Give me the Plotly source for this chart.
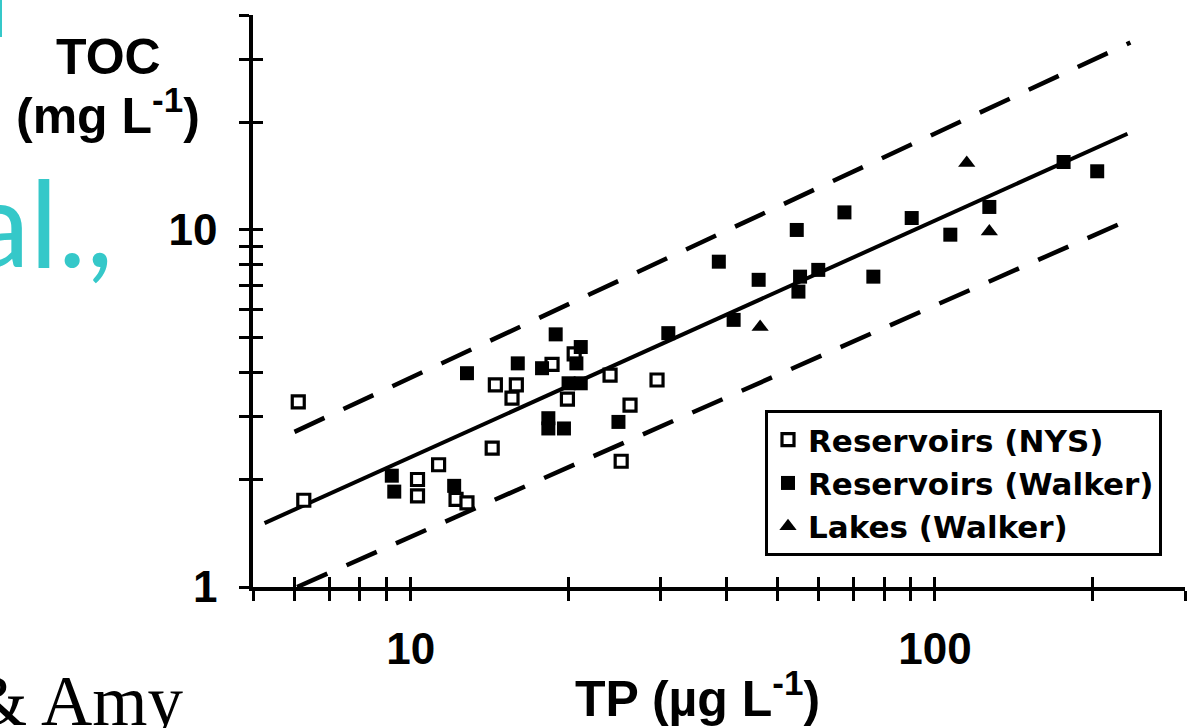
import numpy as np
import plotly.graph_objects as go

# ---------------- data ----------------
nys_tp = [6.1, 6.25, 10.3, 10.3, 11.3, 12.2, 12.8, 14.3, 14.5, 15.9, 15.6, 18.6, 20.5, 19.9, 24.0, 29.5, 26.2, 25.2]
nys_toc = [3.3, 1.75, 2.0, 1.8, 2.2, 1.76, 1.72, 2.45, 3.68, 3.68, 3.38, 4.2, 4.5, 3.36, 3.92, 3.8, 3.23, 2.25]

walker_res_tp = [9.2, 9.3, 12.1, 12.8, 16.0, 17.8, 18.9, 21.1, 20.7, 20.0, 21.1, 18.3, 18.3, 19.6, 24.9,
                 31.0, 38.7, 46.1, 41.3, 54.9, 55.3, 59.9, 76.3, 54.5, 67.2, 90.3, 107, 127, 176, 204]
walker_res_toc = [2.05, 1.85, 1.92, 3.97, 4.23, 4.1, 5.1, 4.7, 4.23, 3.72, 3.72, 2.97, 2.78, 2.78, 2.9,
                  5.14, 8.15, 7.25, 5.6, 6.72, 7.4, 7.73, 7.4, 10.0, 11.2, 10.8, 9.7, 11.6, 15.5, 14.6]

lakes_tp = [46.4, 127, 115]
lakes_toc = [5.35, 9.9, 15.4]

fit_tp = [5.26, 233]
fit_toc = [1.51, 18.6]
upper_tp = [6.0, 236]
upper_toc = [2.72, 33.5]
lower_tp = [6.07, 232]
lower_toc = [1.0, 10.6]

x_tickvals = [5, 6, 7, 8, 9, 10, 20, 30, 40, 50, 60, 70, 80, 90, 100, 200, 300]
x_ticktext = ["", "", "", "", "", "10", "", "", "", "", "", "", "", "", "100", "", ""]
y_tickvals = [1, 2, 3, 4, 5, 6, 7, 8, 9, 10, 20, 30, 40]
y_ticktext = ["1", "", "", "", "", "", "", "", "", "10", "", "", ""]

# ---------------- figure ----------------
W, H = 1196, 728
ML, MR, MT, MB = 253, 11, 15, 141
PW, PH = W - ML - MR, H - MT - MB


def px(xp):
    return (xp - ML) / PW


def py(yp):
    return (H - MB - yp) / PH


fig = go.Figure()

fig.add_trace(go.Scatter(x=fit_tp, y=fit_toc, mode="lines", line=dict(color="black", width=4),
                         showlegend=False, hoverinfo="skip"))
fig.add_trace(go.Scatter(x=nys_tp, y=nys_toc, mode="markers", name="Reservoirs (NYS)",
                         marker=dict(symbol="square", size=12, color="white",
                                     line=dict(color="black", width=3.2))))
fig.add_trace(go.Scatter(x=walker_res_tp, y=walker_res_toc, mode="markers", name="Reservoirs (Walker)",
                         marker=dict(symbol="square", size=14, color="black", line=dict(width=0))))
fig.add_trace(go.Scatter(x=lakes_tp, y=lakes_toc, mode="markers", name="Lakes (Walker)",
                         marker=dict(symbol="triangle-up", size=15, color="black", line=dict(width=0))))
fig.add_trace(go.Scatter(x=upper_tp, y=upper_toc, xaxis="x2", yaxis="y2", mode="lines",
                         line=dict(color="black", width=4.5, dash="33px,21px"),
                         showlegend=False, hoverinfo="skip"))
fig.add_trace(go.Scatter(x=lower_tp, y=lower_toc, xaxis="x2", yaxis="y2", mode="lines",
                         line=dict(color="black", width=4.5, dash="33px,21px"),
                         showlegend=False, hoverinfo="skip"))

xr = [np.log10(5), np.log10(300)]
yr = [0, np.log10(40)]
tickfont = dict(family="Liberation Sans, Arial, sans-serif", size=44, color="black", weight="bold")

fig.update_layout(
    width=W, height=H,
    margin=dict(l=ML, r=MR, t=MT, b=MB, pad=0),
    paper_bgcolor="white", plot_bgcolor="white",
    xaxis=dict(type="log", range=xr, showline=True, linecolor="black", linewidth=3.5,
               showgrid=False, zeroline=False, ticks="outside", ticklen=10, tickwidth=3,
               tickcolor="black", tickvals=x_tickvals, ticktext=x_ticktext, tickfont=tickfont,
               ticklabelstandoff=10),
    yaxis=dict(type="log", range=yr, showline=True, linecolor="black", linewidth=3.5,
               showgrid=False, zeroline=False, ticks="outside", ticklen=10, tickwidth=3,
               tickcolor="black", tickvals=y_tickvals, ticktext=y_ticktext, tickfont=tickfont,
               ticklabelstandoff=13),
    xaxis2=dict(type="log", range=xr, overlaying="x", anchor="y2", side="bottom", showline=False,
                showgrid=False, zeroline=False, ticks="inside", ticklen=10, tickwidth=3,
                tickcolor="black", tickvals=x_tickvals, showticklabels=False),
    yaxis2=dict(type="log", range=yr, overlaying="y", anchor="x2", side="left", showline=False,
                showgrid=False, zeroline=False, ticks="inside", ticklen=10, tickwidth=3,
                tickcolor="black", tickvals=y_tickvals, showticklabels=False),
    legend=dict(x=px(765), y=py(410), xanchor="left", yanchor="top",
                bordercolor="black", borderwidth=3, bgcolor="white",
                font=dict(family="DejaVu Sans, sans-serif", size=31, color="black", weight="bold"),
                tracegroupgap=0),
    showlegend=True,
)

title_font = dict(family="Liberation Sans, Arial, sans-serif", size=50, color="black", weight="bold")
fig.add_annotation(xref="paper", yref="paper", x=px(108), y=py(57), text="TOC",
                   showarrow=False, xanchor="center", yanchor="middle", font=title_font)
fig.add_annotation(xref="paper", yref="paper", x=px(108), y=py(112), text="(mg L<sup>-1</sup>)",
                   showarrow=False, xanchor="center", yanchor="middle", font=title_font)
fig.add_annotation(xref="paper", yref="paper", x=px(697), y=py(695), text="TP (µg L<sup>-1</sup>)",
                   showarrow=False, xanchor="center", yanchor="middle", font=title_font)

# slide text fragments behind the chart
fig.add_annotation(xref="paper", yref="paper", x=px(116), y=py(221), text="al.,",
                   showarrow=False, xanchor="right", yanchor="middle",
                   font=dict(family="Lato, Open Sans, sans-serif", size=120, color="#35C8C9"))
fig.add_annotation(xref="paper", yref="paper", x=px(-30), y=py(701), text="&amp; Amy",
                   showarrow=False, xanchor="left", yanchor="middle",
                   font=dict(family="Liberation Serif, Times New Roman, serif", size=71, color="black"))
fig.add_shape(type="line", xref="paper", yref="paper", x0=px(1), x1=px(1), y0=py(0), y1=py(37),
              line=dict(color="#35C8C9", width=2))

fig.write_html("out.html")
